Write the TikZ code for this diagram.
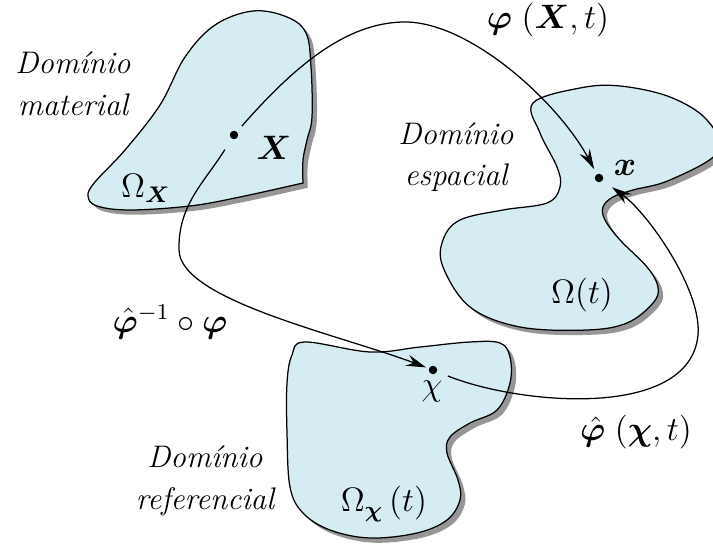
\documentclass[tikz,border=0pt]{standalone}
\usepackage{amsmath,bm}
\usetikzlibrary{arrows.meta}
\definecolor{domfill}{RGB}{214,236,243}
\definecolor{shadowgray}{RGB}{150,150,150}
\begin{document}
\begin{tikzpicture}[x=0.4pt,y=-0.4pt,
  regionshape/.style={draw=black, line width=0.5pt, fill=domfill,
    preaction={fill=shadowgray, transform canvas={xshift=1.9pt,yshift=-1.9pt}}},
  conn/.style={draw=black, line width=0.5pt, -{Stealth[length=8pt,width=4.6pt,inset=2.8pt]}},
  dotnode/.style={circle, fill=black, inner sep=0pt, minimum size=3.4pt},
  lbl/.style={font=\fontsize{12}{16}\selectfont, inner sep=0pt, scale=1.13, transform shape},
  domtext/.style={font=\fontsize{12}{16}\selectfont\itshape, align=center, inner sep=0pt, scale=1.04, transform shape}]
\useasboundingbox (0,0) rectangle (713,545);
% material domain
\path[regionshape] plot[smooth, tension=0.6] coordinates {(303,183) (240,197) (190,206) (130,210) (97,206) (88,196) (95,182) (125,150) (160,105) (185,57) (215,25) (253,11) (287,17) (306,33) (311,67) (312,117) (307,140) (303,160) (303,183)} -- cycle;
% spatial domain
\path[regionshape] plot[smooth cycle, tension=0.6] coordinates {(533,103) (580,88) (620,86) (670,97) (707,120) (718,152) (670,180) (633,190) (613,197) (603,207) (605,220) (620,240) (647,267) (658,287) (653,303) (627,323) (587,330) (520,327) (470,307) (443,267) (443,240) (460,220) (503,210) (547,203) (560,187) (557,167) (540,133)};
% referential domain
\path[regionshape] plot[smooth cycle, tension=0.6] coordinates {(305,342) (370,352) (420,347) (470,342) (500,343) (510,357) (510,383) (497,410) (470,423) (450,437) (447,453) (458,480) (460,500) (447,520) (417,533) (370,538) (330,530) (303,513) (290,487) (287,433) (287,383) (292,355)};
% points
\node[dotnode] (Xd) at (234,135) {};
\node[dotnode] (xd) at (599,178) {};
\node[dotnode] (chid) at (433,370) {};
% connectors
\draw[conn, shorten <=2.8pt, shorten >=2.2pt] (Xd) .. controls (292,69) and (345,22) .. (405,22) .. controls (470,22) and (558,102) .. (xd);
\draw[conn, shorten <=5pt, shorten >=1.1pt] (Xd) .. controls (204,183) and (178,205) .. (179,250) .. controls (180,300) and (337,334) .. (chid);
\draw[conn, shorten <=4.5pt, shorten >=4.5pt] (chid) .. controls (520,405) and (690,420) .. (698,335) .. controls (702,290) and (648,213) .. (xd);
% labels
\node[domtext] (tmat) at (73,84) {Domínio\\material};
\node[domtext] (tesp) at (456,157) {Domínio\\espacial};
\node[domtext] (tref) at (205,481) {Domínio\\referencial};
\node[lbl] (lphi) at (548,20) {$\bm{\varphi}\;(\bm{X},t)$};
\node[lbl] (lphihat) at (636,432) {$\hat{\bm{\varphi}}\;(\bm{\chi},t)$};
\node[lbl] (lcomp) at (170,322) {$\hat{\bm{\varphi}}^{-1}\circ\bm{\varphi}$};
\node[lbl] (lX) at (274,148) {$\bm{X}$};
\node[lbl] (lOX) at (146,188) {$\Omega_{\bm{X}}$};
\node[lbl] (lx) at (625,168) {$\bm{x}$};
\node[lbl] (lOt) at (582,295) {$\Omega(t)$};
\node[lbl] (lchi) at (432,391) {$\chi$};
\node[lbl] (lOchi) at (384,504) {$\Omega_{\bm{\chi}}\,(t)$};
\end{tikzpicture}
\end{document}
